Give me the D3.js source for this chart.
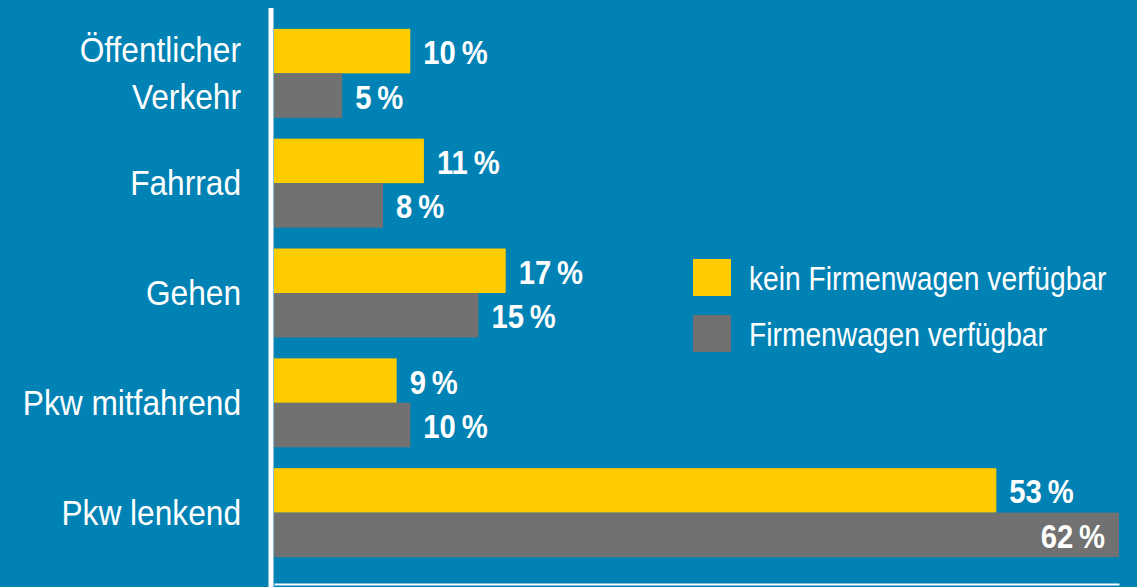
<!DOCTYPE html>
<html>
<head>
<meta charset="utf-8">
<script src="https://cdn.jsdelivr.net/npm/d3@7"></script>
<style>
  html, body { margin: 0; padding: 0; background: #0082b4; }
  svg { display: block; }
</style>
</head>
<body>
<script>
// data
const categories = ['Öffentlicher Verkehr', 'Fahrrad', 'Gehen', 'Pkw mitfahrend', 'Pkw lenkend'];
const categoryLines = [['Öffentlicher', 'Verkehr'], ['Fahrrad'], ['Gehen'], ['Pkw mitfahrend'], ['Pkw lenkend']];
const seriesNames = ['kein Firmenwagen verfügbar', 'Firmenwagen verfügbar'];
const keinFirmenwagen = [10, 11, 17, 9, 53];
const firmenwagen = [5, 8, 15, 10, 62];

// setting canvas
const width = 1137;
const height = 587;
const colors = ['#ffcc00', '#717171'];
const font = "'Liberation Sans', Arial, sans-serif";

const svg = d3.select('body').append('svg').attr('width', width).attr('height', height);

svg.append('rect').attr('width', width).attr('height', height).attr('fill', '#0082b4');

const rows = categories.map((c, i) => ({
  category: c,
  lines: categoryLines[i],
  values: [keinFirmenwagen[i], firmenwagen[i]],
}));

// scales
const x = d3.scaleLinear().domain([0, 62]).range([274, 1119]);

const y = d3
  .scaleBand()
  .domain(categories)
  .range([8, 578])
  .paddingInner(0.19)
  .paddingOuter(0.19);

const ySub = d3.scaleBand().domain([0, 1]).range([0, y.bandwidth()]);

// bottom axis (domain line only)
svg
  .append('g')
  .attr('transform', `translate(0, 584)`)
  .call(d3.axisBottom(x).tickValues([]).tickSizeOuter(0))
  .call((g) => g.select('.domain').attr('stroke', '#ffffff').attr('stroke-width', 2));

// vertical axis line
svg
  .append('line')
  .attr('x1', 271)
  .attr('x2', 271)
  .attr('y1', 8)
  .attr('y2', height)
  .attr('stroke', '#ffffff')
  .attr('stroke-width', 5);

// bars
const groups = svg
  .append('g')
  .selectAll('g')
  .data(rows)
  .enter()
  .append('g')
  .attr('transform', (d) => `translate(0, ${y(d.category)})`);

groups
  .selectAll('rect')
  .data((d) => d.values.map((v, k) => ({ v, k })))
  .enter()
  .append('rect')
  .attr('x', x(0))
  .attr('y', (d) => ySub(d.k))
  .attr('width', (d) => x(d.v) - x(0))
  .attr('height', ySub.bandwidth())
  .attr('fill', (d) => colors[d.k]);

// value labels
groups
  .selectAll('text')
  .data((d) => d.values.map((v, k) => ({ v, k })))
  .enter()
  .append('text')
  .text((d) => d.v + '\u2009%')
  .attr('transform', (d) => {
    const tx = d.v > 60 ? x(d.v) - 14 : x(d.v) + 13;
    const ty = ySub(d.k) + ySub.bandwidth() / 2 + 13;
    return `translate(${tx}, ${ty}) scale(0.86, 1)`;
  })
  .attr('text-anchor', (d) => (d.v > 60 ? 'end' : 'start'))
  .attr('fill', '#ffffff')
  .attr('font-family', font)
  .attr('font-weight', 'bold')
  .attr('font-size', '34px');

// category labels
svg
  .append('g')
  .selectAll('text')
  .data(rows)
  .enter()
  .append('text')
  .attr('transform', (d) => `translate(241, ${y(d.category) + y.bandwidth() / 2 + 12}) scale(0.88, 1)`)
  .attr('text-anchor', 'end')
  .attr('fill', '#ffffff')
  .attr('font-family', font)
  .attr('font-size', '36px')
  .each(function (d) {
    const n = d.lines.length;
    d3.select(this)
      .selectAll('tspan')
      .data(d.lines)
      .enter()
      .append('tspan')
      .attr('x', 0)
      .attr('y', (t, i) => (i - (n - 1) / 2) * 47)
      .text((t) => t);
  });

// legend
const legend = svg
  .append('g')
  .selectAll('g')
  .data(seriesNames)
  .enter()
  .append('g')
  .attr('transform', (d, i) => `translate(693, ${259 + i * 56})`);

legend
  .append('rect')
  .attr('width', 38)
  .attr('height', 37)
  .attr('fill', (d, i) => colors[i]);

legend
  .append('text')
  .attr('transform', `translate(56, 31) scale(0.83, 1)`)
  .attr('fill', '#ffffff')
  .attr('font-family', font)
  .attr('font-size', '34px')
  .text((d) => d);
</script>
</body>
</html>
